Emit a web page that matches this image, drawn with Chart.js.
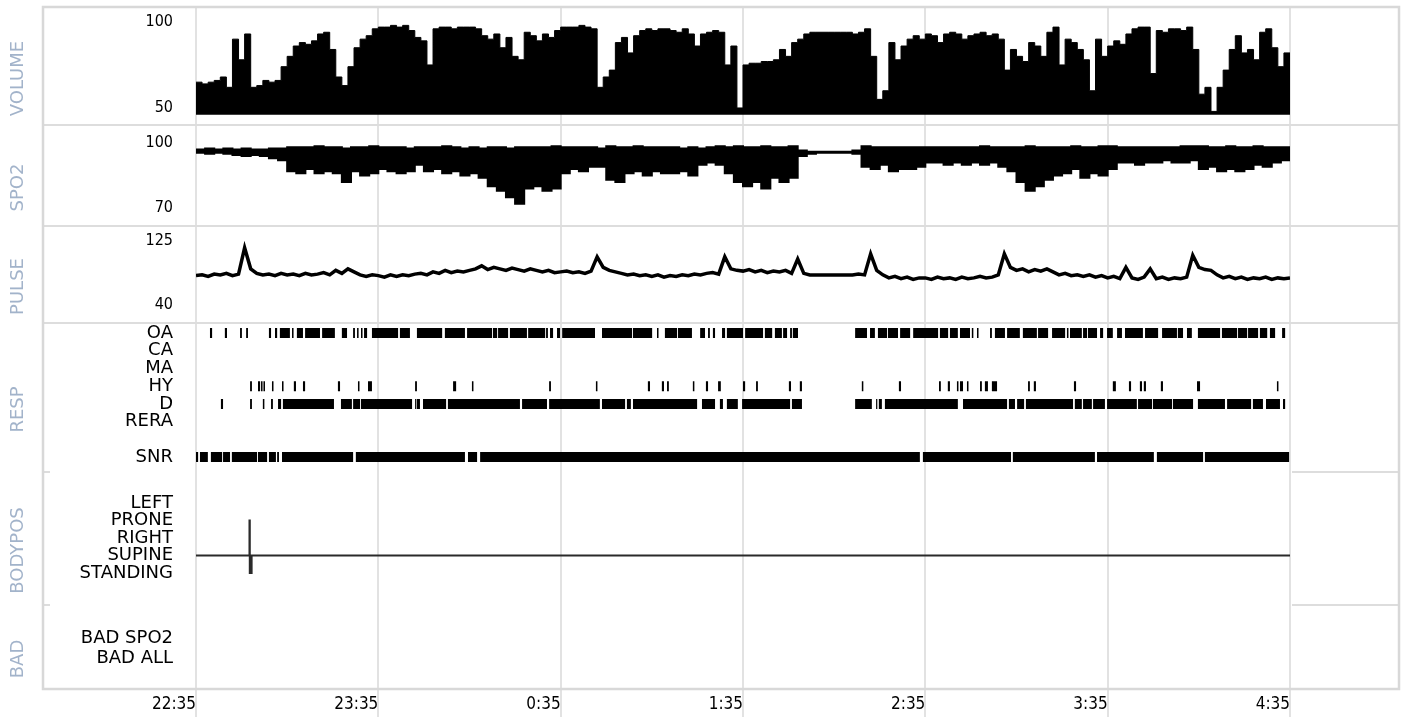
<!DOCTYPE html>
<html>
<head>
<meta charset="utf-8">
<title>Overnight recording</title>
<script src="https://cdn.jsdelivr.net/npm/chart.js@4.4.1/dist/chart.umd.min.js"></script>
<style>
    html, body { margin: 0; padding: 0; background: #ffffff; }
    #recordingChart { display: block; }
</style>
</head>
<body>
<canvas id="recordingChart" width="1406" height="719"></canvas>
<script>

// x values are minutes after 22:35
const hourLabels = ["22:35", "23:35", "0:35", "1:35", "2:35", "3:35", "4:35"];
const panelTitles = ["VOLUME", "SPO2", "PULSE", "RESP", "BODYPOS", "BAD"];

const volumeTicks = [50, 100];
const spo2Ticks = [70, 100];
const pulseTicks = [40, 125];

const respRows = ["OA", "CA", "MA", "HY", "D", "RERA", "SNR"];
const respLevels = [0, 1, 2, 3, 4, 5, 7];
const bodyPosRows = ["LEFT", "PRONE", "RIGHT", "SUPINE", "STANDING"];
const bodyPosLevels = [0, 1, 2, 3, 4];
const badRows = ["BAD SPO2", "BAD ALL"];
const badLevels = [0, 1];


// one value every 2 minutes
const volumeStep = 2;
const volumeValues = [
    65, 64, 65, 66, 68, 62, 90, 78, 93, 62, 63, 66, 65, 66, 74,
    80, 86, 88, 87, 89, 93, 94, 84, 68, 63, 74, 85, 90, 92, 96,
    97, 97, 98, 97, 98, 95, 91, 89, 75, 96, 97, 97, 96, 97, 97,
    97, 96, 92, 90, 93, 85, 91, 80, 78, 94, 92, 89, 93, 91, 95,
    97, 97, 97, 98, 97, 96, 62, 68, 72, 88, 91, 82, 92, 95, 96,
    95, 96, 96, 95, 94, 96, 93, 86, 93, 94, 95, 94, 75, 86, 50,
    75, 76, 76, 77, 77, 78, 84, 80, 88, 90, 93, 94, 94, 94, 94,
    94, 94, 94, 93, 94, 96, 80, 55, 60, 88, 78, 86, 90, 92, 90,
    93, 92, 88, 93, 94, 93, 90, 92, 93, 94, 92, 93, 90, 72, 84,
    80, 77, 88, 86, 80, 94, 97, 75, 90, 88, 84, 78, 60, 90, 80,
    86, 89, 87, 93, 96, 97, 97, 70, 95, 94, 96, 96, 95, 97, 84,
    58, 62, 48, 62, 72, 84, 92, 82, 84, 78, 94, 96, 85, 74, 82,
    82
];

// highest and lowest saturation every 3 minutes
const spo2Step = 3;
const spo2High = [
    97, 97.5, 97, 97.5, 97, 97.5, 97, 97, 97.5, 97.5,
    98, 98, 98, 98.5, 98, 98, 97.5, 98, 98, 98.5,
    98, 98, 98, 97.5, 98, 98, 98, 98.5, 98, 97.5,
    98, 97.5, 98, 98, 97.5, 98, 98, 98, 98, 98.5,
    98, 98, 98, 98, 97.5, 98.5, 98, 98, 98.5, 98,
    98, 98, 98, 97.5, 98, 97.5, 98, 98.5, 98, 98.5,
    98, 98, 98.5, 98, 98, 98.5, 96.5, 96, 96, 96,
    96, 96, 96.5, 98.5, 98, 98, 98, 98, 98, 98,
    98, 98, 98, 98, 98, 98, 98.5, 98, 98, 98,
    98, 98.5, 98, 98, 98, 98, 98.5, 98, 98, 98.5,
    98.5, 98, 98, 98, 98, 98, 98, 98, 98.5, 98.5,
    98.5, 98, 98, 98.5, 98, 98, 98.5, 98, 98, 98,
    98
];
const spo2Low = [
    95.5, 95, 95.5, 95, 94.5, 94, 94.5, 94, 93, 92,
    87, 86, 88, 86, 87, 86, 82, 87, 85, 86,
    88, 87, 86, 87, 90, 87, 88, 86, 87, 85,
    86, 84, 80, 78, 75, 72, 79, 80, 78, 79,
    86, 88, 87, 89, 89, 83, 82, 86, 87, 85,
    87, 86, 86, 87, 85, 90, 91, 90, 86, 82,
    80, 82, 79, 84, 82, 84, 94, 95, 95.5, 95.5,
    95.5, 95.5, 95, 89, 88, 90, 87, 88, 88, 89,
    91, 91, 90, 91, 90, 91, 90, 91, 89, 87,
    82, 78, 80, 83, 85, 86, 88, 84, 86, 85,
    88, 91, 91, 90, 91, 91, 92, 91, 91, 92,
    88, 89, 87, 88, 87, 88, 90, 89, 91, 92,
    92
];

// one value every 2 minutes
const pulseStep = 2;
const pulseValues = [
    79, 80, 78, 81, 80, 82, 79, 81, 116, 88, 82, 80, 81, 79, 82,
    80, 81, 79, 82, 80, 81, 83, 80, 86, 82, 88, 84, 80, 78, 80,
    79, 77, 80, 78, 80, 79, 81, 82, 80, 84, 82, 86, 83, 85, 84,
    86, 88, 92, 87, 90, 88, 86, 89, 87, 85, 88, 86, 84, 86, 83,
    84, 85, 83, 84, 82, 85, 104, 90, 86, 84, 82, 80, 81, 79, 80,
    78, 80, 77, 79, 78, 80, 79, 81, 80, 82, 83, 81, 104, 88, 86,
    85, 87, 84, 86, 83, 85, 84, 86, 82, 101, 82, 80, 80, 80, 80,
    80, 80, 80, 80, 81, 80, 108, 86, 80, 76, 78, 75, 77, 74, 76,
    76, 74, 77, 75, 76, 74, 77, 75, 76, 78, 76, 77, 80, 108, 90,
    86, 88, 84, 87, 85, 88, 84, 80, 82, 79, 80, 78, 80, 77, 79,
    76, 78, 75, 90, 76, 74, 77, 88, 75, 77, 74, 76, 75, 77, 106,
    90, 87, 86, 80, 76, 78, 75, 77, 74, 76, 75, 77, 74, 76, 75,
    76
];

// respiratory events, [start, end] in minutes
const oaEvents = [
    [4.6, 5.3], [9.5, 10.2], [14.5, 15.1], [16.5, 17.1], [24.0, 24.7], [26.0, 26.7],
    [27.6, 30.9], [31.6, 32.1], [33.2, 35.2], [35.9, 40.8], [41.5, 45.7], [48.0, 49.7],
    [51.7, 52.3], [53.0, 53.5], [54.3, 54.8], [55.3, 56.3], [57.9, 66.5], [67.1, 70.4],
    [72.7, 81.0], [81.9, 88.5], [89.2, 97.4], [97.7, 99.1], [99.4, 102.7], [103.3, 108.9],
    [109.3, 114.9], [115.2, 115.8], [116.5, 117.5], [118.8, 119.8], [120.5, 131.3], [133.6, 143.5],
    [143.8, 150.1], [151.7, 152.2], [154.3, 158.3], [158.6, 163.2], [165.9, 167.5], [168.5, 169.1],
    [170.1, 170.8], [173.1, 174.1], [174.7, 180.0], [180.7, 186.6], [187.2, 189.6], [190.5, 192.8],
    [193.2, 194.5], [195.5, 196.1], [196.4, 198.1], [216.9, 220.8], [221.8, 223.4], [224.4, 227.4],
    [227.7, 231.0], [231.7, 235.0], [236.0, 244.2], [244.8, 247.5], [248.1, 250.7], [251.4, 254.7],
    [255.3, 255.8], [257.0, 257.5], [261.3, 261.9], [262.9, 266.2], [266.9, 271.1], [272.1, 276.7],
    [277.1, 280.4], [281.7, 286.0], [286.6, 287.1], [287.6, 291.5], [291.9, 293.2], [293.5, 296.5],
    [297.5, 298.5], [299.8, 301.7], [303.1, 304.7], [305.7, 311.6], [312.3, 316.6], [317.9, 322.8],
    [323.1, 324.8], [326.1, 327.7], [329.7, 337.0], [337.6, 342.6], [342.9, 345.9], [346.2, 349.5],
    [350.1, 352.5], [353.4, 355.1], [357.4, 358.4]
];
const caEvents = [];
const maEvents = [];
const hyEvents = [
    [17.8, 18.4], [20.4, 21.1], [21.4, 21.9], [22.2, 22.7], [25.0, 25.5], [28.3, 28.8],
    [32.2, 32.9], [35.2, 35.9], [46.7, 47.4], [53.3, 53.8], [56.6, 57.9], [72.1, 72.7],
    [84.6, 85.6], [90.8, 91.3], [116.2, 116.8], [131.6, 132.1], [148.7, 149.4], [153.3, 154.0],
    [155.0, 155.6], [163.5, 164.0], [167.8, 168.5], [171.8, 172.7], [180.0, 180.7], [184.3, 184.9],
    [195.1, 195.8], [198.7, 199.4], [219.1, 219.6], [231.3, 232.0], [244.5, 245.1], [247.4, 248.1],
    [250.4, 250.9], [251.4, 252.4], [253.7, 254.2], [258.0, 258.6], [259.6, 260.6], [261.9, 263.6],
    [273.8, 274.4], [275.7, 276.4], [288.9, 289.6], [301.7, 302.7], [307.0, 307.7], [310.6, 311.3],
    [311.9, 312.6], [317.5, 318.2], [329.4, 330.4], [355.7, 356.2]
];
const dEvents = [
    [8.2, 8.9], [17.8, 18.4], [22.0, 22.5], [24.7, 25.3], [27.0, 28.0], [28.6, 45.4],
    [47.7, 51.3], [51.7, 54.0], [54.3, 71.1], [72.1, 72.5], [72.7, 73.7], [74.7, 82.3],
    [82.9, 106.6], [107.3, 115.5], [116.2, 132.9], [133.6, 141.2], [141.8, 143.1], [143.8, 164.9],
    [166.5, 170.8], [172.4, 173.4], [174.7, 178.3], [179.7, 195.5], [196.1, 199.4], [216.9, 222.4],
    [223.8, 224.2], [224.7, 225.7], [226.7, 250.7], [252.4, 266.9], [267.5, 269.5], [270.2, 272.5],
    [273.1, 288.6], [289.2, 291.5], [291.9, 294.8], [295.2, 299.1], [299.8, 309.6], [310.0, 314.6],
    [314.9, 321.2], [321.5, 328.1], [329.7, 338.6], [339.3, 347.2], [347.8, 351.1], [352.1, 356.7],
    [357.7, 358.4]
];
const reraEvents = [];
const snrEvents = [
    [0.0, 0.7], [1.3, 3.9], [4.9, 8.6], [8.9, 11.2], [11.8, 20.1], [20.4, 23.4],
    [24.0, 26.3], [26.7, 27.3], [28.3, 51.7], [52.6, 88.5], [89.5, 92.5], [93.5, 238.2],
    [239.2, 268.2], [268.8, 295.8], [296.5, 315.2], [316.2, 331.4], [332.0, 359.7]
];

// body position changes: time and row index (3 = SUPINE)
const bodyPosTimes = [0, 17.6, 17.7, 18.3, 360];
const bodyPosValues = [3, 1, 4, 3, 3];

const badSpo2Events = [];
const badAllEvents = [];




const labelColumnWidth = 153;
const rightColumnWidth = 110;

const numberFont = { family: "'DejaVu Sans Condensed', 'DejaVu Sans', sans-serif", size: 16 };
const rowFont = { family: "'DejaVu Sans', sans-serif", size: 18 };
const timeFont = { family: "'DejaVu Sans Condensed', 'DejaVu Sans', sans-serif", size: 17 };


const sampled = (values, step) => values.map((value, index) => ({ x: index * step, y: value }));

const eventSegments = (events, level) => events.flatMap(([start, end]) => [
    { x: start, y: level },
    { x: end, y: level },
    { x: end, y: null },
]);


const panelScale = (order, height, min, max, reverse, tickValues, tickTexts, font) => {

    return {
        type: "linear",
        position: "left",
        stack: "panels",
        stackWeight: height,
        weight: order,
        min: min,
        max: max,
        reverse: reverse,
        grid: { display: false, drawTicks: false },
        border: { display: false },
        ticks: {
            autoSkip: false,
            padding: 23,
            color: "#000000",
            font: font,
            callback: (value, index) => tickTexts[index],
        },
        afterBuildTicks: (scale) => {
            scale.ticks = tickValues.map((value) => ({ value: value }));
        },
        afterFit: (scale) => {
            scale.width = labelColumnWidth;
            scale.paddingTop = 0;
            scale.paddingBottom = 0;
        },
    };

};


const eventDataset = (events, level) => ({
    type: "line",
    data: eventSegments(events, level),
    yAxisID: "yResp",
    borderColor: "#000000",
    borderWidth: 10,
    borderCapStyle: "butt",
    pointRadius: 0,
    spanGaps: false,
});


const panelIds = ["yVolume", "ySpo2", "yPulse", "yResp", "yBodyPos", "yBad"];

const panelFramePlugin = {

    id: "panelFrame",

    beforeDatasetsDraw: (chart) => {

        const { ctx, chartArea, scales } = chart;
        const frameLeft = chartArea.left - labelColumnWidth;
        const frameRight = chartArea.right + rightColumnWidth - 1;

        const strokeLine = (x1, y1, x2, y2) => {
            ctx.beginPath();
            ctx.moveTo(x1, y1);
            ctx.lineTo(x2, y2);
            ctx.stroke();
        };

        ctx.save();
        ctx.strokeStyle = "#dddddd";
        ctx.lineWidth = 2;

        for (const id of ["yVolume", "ySpo2", "yPulse"]) {
            strokeLine(frameLeft, scales[id].bottom, frameRight, scales[id].bottom);
        }

        for (const id of ["yResp", "yBodyPos"]) {
            strokeLine(frameLeft, scales[id].bottom, frameLeft + 7, scales[id].bottom);
            strokeLine(chartArea.right + 2, scales[id].bottom, frameRight, scales[id].bottom);
        }

        ctx.lineWidth = 2.5;
        ctx.strokeStyle = "#d8d8d8";
        ctx.strokeRect(frameLeft, chartArea.top - 1, frameRight - frameLeft, chartArea.bottom - chartArea.top + 1);
        ctx.restore();

    },

    afterDraw: (chart) => {

        const { ctx, chartArea, scales } = chart;

        ctx.save();
        ctx.fillStyle = "#a2b3ca";
        ctx.font = "18px 'DejaVu Sans', sans-serif";
        ctx.textAlign = "center";
        ctx.textBaseline = "middle";

        panelIds.forEach((id, index) => {
            const scale = scales[id];
            ctx.save();
            ctx.translate(chartArea.left - 177.5, (scale.top + scale.bottom) / 2 + 12);
            ctx.rotate(-Math.PI / 2);
            ctx.fillText(panelTitles[index], 0, 0);
            ctx.restore();
        });

        ctx.restore();

    },

};


const drawRecordingChart = () => {

    const recordingChart = document.getElementById("recordingChart");

    new Chart(
        recordingChart, {
            type: "line",
            data: {
                datasets: [
                    {
                        label: "VOLUME",
                        data: sampled(volumeValues, volumeStep),
                        yAxisID: "yVolume",
                        stepped: true,
                        borderColor: "#000000",
                        backgroundColor: "#000000",
                        borderWidth: 1,
                        pointRadius: 0,
                        fill: { value: 46 },
                    },
                    {
                        label: "SPO2 high",
                        data: sampled(spo2High, spo2Step),
                        yAxisID: "ySpo2",
                        stepped: true,
                        borderColor: "#000000",
                        borderWidth: 2,
                        pointRadius: 0,
                        fill: false,
                    },
                    {
                        label: "SPO2 low",
                        data: sampled(spo2Low, spo2Step),
                        yAxisID: "ySpo2",
                        stepped: true,
                        borderColor: "#000000",
                        backgroundColor: "#000000",
                        borderWidth: 2,
                        pointRadius: 0,
                        fill: "-1",
                    },
                    {
                        label: "PULSE",
                        data: sampled(pulseValues, pulseStep),
                        yAxisID: "yPulse",
                        borderColor: "#000000",
                        borderWidth: 3.5,
                        borderJoinStyle: "miter",
                        pointRadius: 0,
                    },
                    eventDataset(oaEvents, respLevels[0]),
                    eventDataset(caEvents, respLevels[1]),
                    eventDataset(maEvents, respLevels[2]),
                    eventDataset(hyEvents, respLevels[3]),
                    eventDataset(dEvents, respLevels[4]),
                    eventDataset(reraEvents, respLevels[5]),
                    eventDataset(snrEvents, respLevels[6]),
                    {
                        label: "BODYPOS",
                        data: bodyPosTimes.map((time, index) => ({ x: time, y: bodyPosValues[index] })),
                        yAxisID: "yBodyPos",
                        stepped: true,
                        borderColor: "#2a2a2a",
                        borderWidth: 2,
                        pointRadius: 0,
                    },
                    {
                        label: "BAD SPO2",
                        data: eventSegments(badSpo2Events, badLevels[0]),
                        yAxisID: "yBad",
                        borderColor: "#000000",
                        borderWidth: 10,
                        pointRadius: 0,
                    },
                    {
                        label: "BAD ALL",
                        data: eventSegments(badAllEvents, badLevels[1]),
                        yAxisID: "yBad",
                        borderColor: "#000000",
                        borderWidth: 10,
                        pointRadius: 0,
                    },
                ]
            },
            options: {
                responsive: false,
                animation: false,
                events: [],
                layout: {
                    autoPadding: false,
                    padding: { left: 43, right: 116, top: 8, bottom: 0 },
                },
                plugins: {
                    legend: { display: false },
                    title: { display: false },
                    tooltip: { enabled: false },
                },
                scales: {
                    x: {
                        type: "linear",
                        min: 0,
                        max: 360,
                        grid: { color: "#e2e2e2", lineWidth: 2, drawTicks: true, tickLength: 28 },
                        border: { display: false },
                        ticks: {
                            stepSize: 60,
                            align: "end",
                            padding: -23,
                            maxRotation: 0,
                            autoSkip: false,
                            color: "#000000",
                            font: timeFont,
                            callback: (value) => hourLabels[value / 60],
                        },
                        afterFit: (scale) => {
                            scale.height = 30;
                            scale.paddingLeft = 0;
                            scale.paddingRight = 0;
                        },
                    },
                    yVolume: panelScale(6, 117, 40.1, 108.1, false, volumeTicks, volumeTicks.map(String), numberFont),
                    ySpo2: panelScale(5, 101, 61.7, 108.3, false, spo2Ticks, spo2Ticks.map(String), numberFont),
                    yPulse: panelScale(4, 97, 16.1, 144.9, false, pulseTicks, pulseTicks.map(String), numberFont),
                    yResp: panelScale(3, 149, -0.56, 7.84, true, respLevels, respRows, rowFont),
                    yBodyPos: panelScale(2, 133, -1.77, 5.83, true, bodyPosLevels, bodyPosRows, rowFont),
                    yBad: panelScale(1, 84, -1.65, 2.55, true, badLevels, badRows, rowFont),
                }
            },
            plugins: [panelFramePlugin],
        }
    );

    return;

};


drawRecordingChart();

</script>
</body>
</html>
